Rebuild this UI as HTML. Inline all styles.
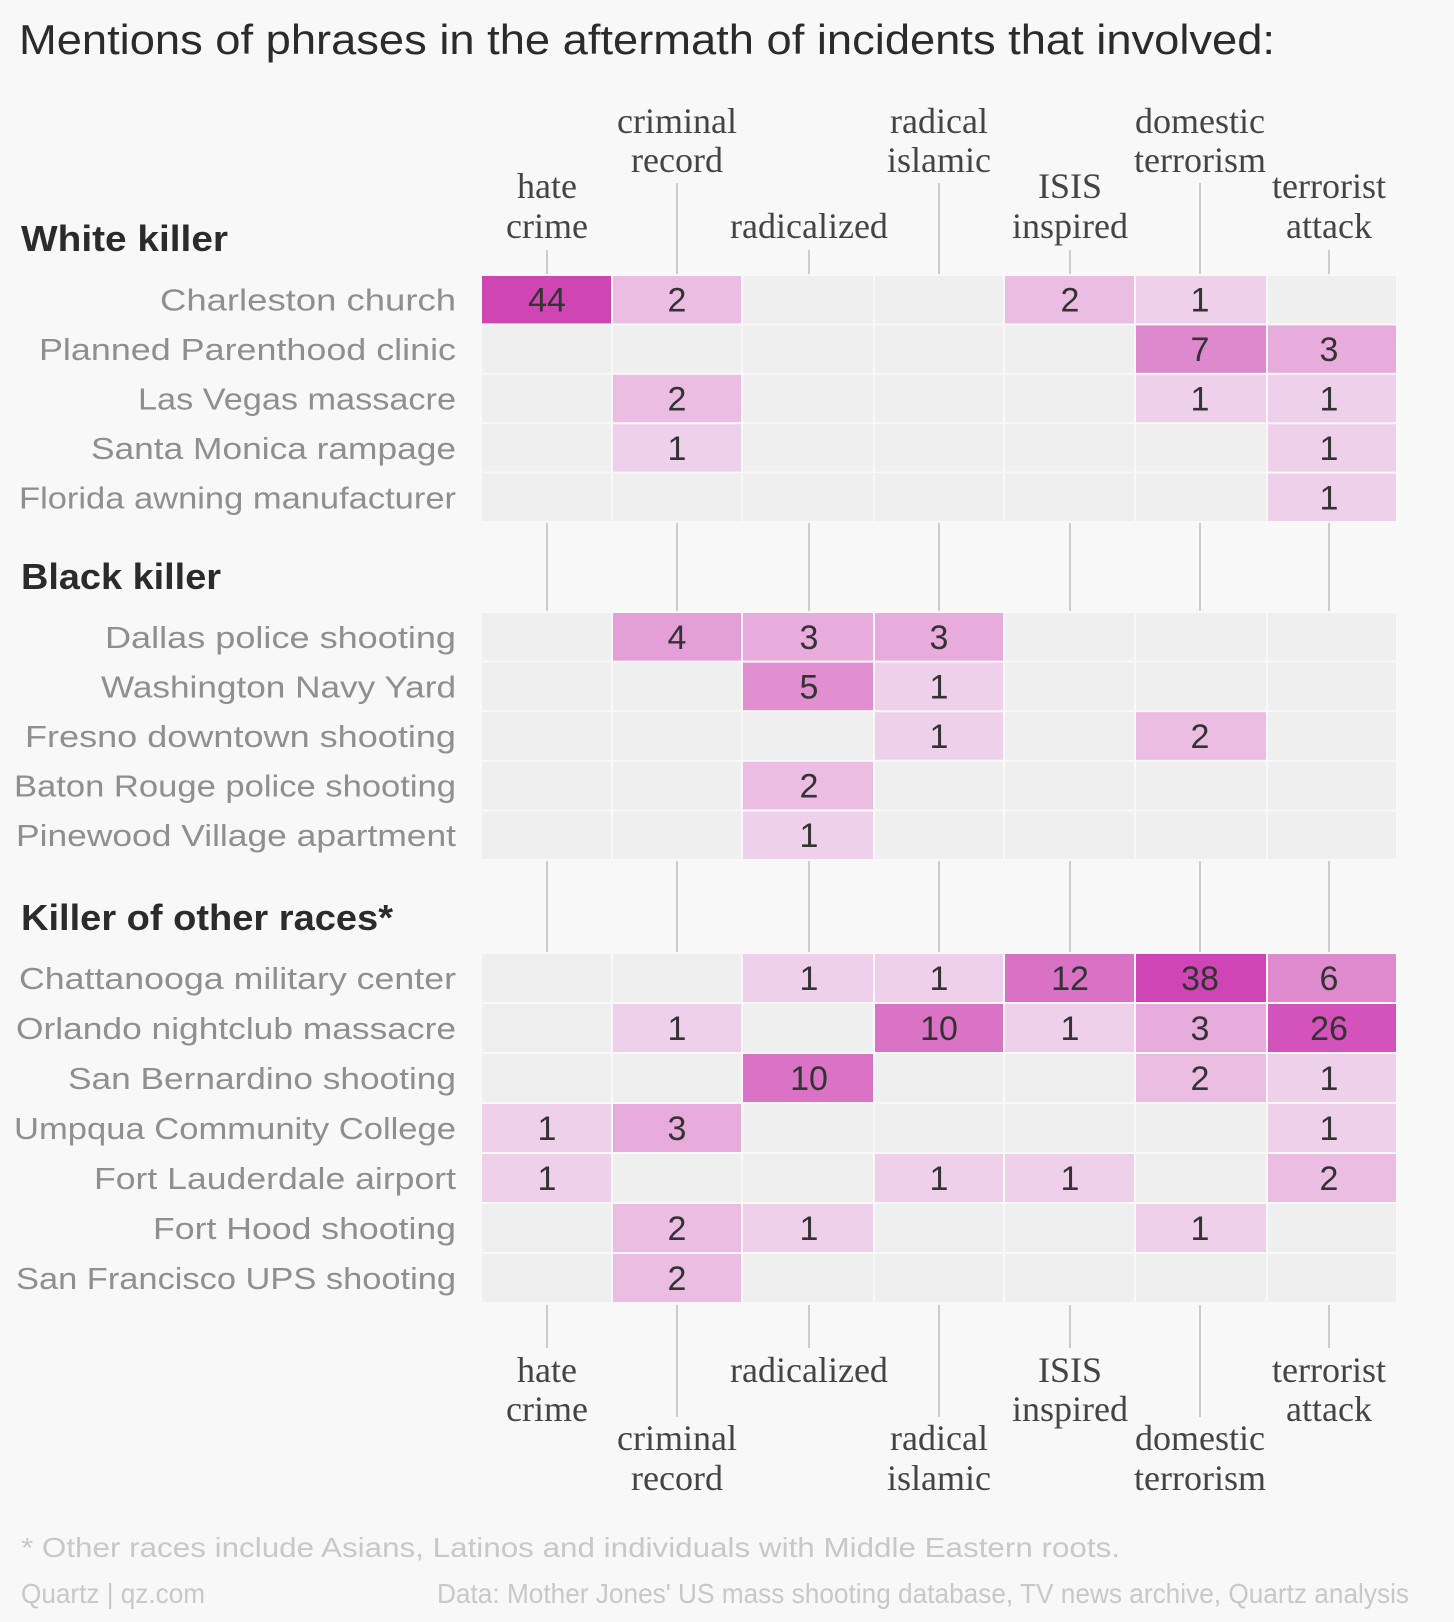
<!DOCTYPE html>
<html><head><meta charset="utf-8">
<style>
html,body{margin:0;padding:0;background:#f8f8f8;}
svg{display:block;}
.lbl{font-family:"Liberation Sans",sans-serif;font-size:31px;fill:#8f8f8f;}
.hd{font-family:"Liberation Sans",sans-serif;font-size:36px;font-weight:bold;fill:#2b2b2b;}
.col{font-family:"Liberation Serif",serif;font-size:36px;fill:#444;}
.num{font-family:"Liberation Sans",sans-serif;font-size:34px;fill:#333;}
.ft{font-family:"Liberation Sans",sans-serif;font-size:28px;fill:#c8c8c8;}
</style></head>
<body>
<svg id="s" width="1454" height="1622" viewBox="0 0 1454 1622" xmlns="http://www.w3.org/2000/svg">
<rect width="1454" height="1622" fill="#f8f8f8"/>
<text x="19" y="54" font-family="Liberation Sans, sans-serif" font-size="42" fill="#2b2b2b" textLength="1256" lengthAdjust="spacingAndGlyphs">Mentions of phrases in the aftermath of incidents that involved:</text>
<text class="hd" x="21" y="251" textLength="207" lengthAdjust="spacingAndGlyphs">White killer</text>
<text class="hd" x="21" y="589" textLength="200" lengthAdjust="spacingAndGlyphs">Black killer</text>
<text class="hd" x="21" y="930" textLength="372" lengthAdjust="spacingAndGlyphs">Killer of other races*</text>
<text class="ft" x="21" y="1557" textLength="1099" lengthAdjust="spacingAndGlyphs">* Other races include Asians, Latinos and individuals with Middle Eastern roots.</text>
<text class="ft" x="21" y="1603" font-size="26" textLength="184" lengthAdjust="spacingAndGlyphs">Quartz | qz.com</text>
<text class="ft" x="437" y="1603" font-size="26" textLength="972" lengthAdjust="spacingAndGlyphs">Data: Mother Jones' US mass shooting database, TV news archive, Quartz analysis</text>
<g id="g"></g>
</svg>
<script>
var NS="http://www.w3.org/2000/svg",g=document.getElementById('g');
function el(t,a,txt){var e=document.createElementNS(NS,t);for(var k in a)e.setAttribute(k,a[k]);if(txt!=null)e.textContent=txt;g.appendChild(e);return e;}
var xb=[481,612,742,874,1004,1135,1267,1397];
var tx=[547,677,809,939,1070,1200,1329];
var cols=[["hate","crime"],["criminal","record"],["radicalized"],["radical","islamic"],["ISIS","inspired"],["domestic","terrorism"],["terrorist","attack"]];
var rowA=[false,true,false,true,false,true,false];
var colors={1:"#eed0ea",2:"#ebbde2",3:"#e8acdc",4:"#e59fd8",5:"#e18fd1",6:"#df8ace",7:"#de88cd",10:"#da73c6",12:"#d972c5",26:"#d452bb",38:"#d045b6",44:"#cf45b4"};
var groups=[
 {top:275,h:49.4,rows:[
  ["Charleston church",296,{0:44,1:2,4:2,5:1}],
  ["Planned Parenthood clinic",417,{5:7,6:3}],
  ["Las Vegas massacre",318,{1:2,5:1,6:1}],
  ["Santa Monica rampage",365,{1:1,6:1}],
  ["Florida awning manufacturer",437,{6:1}]]},
 {top:612,h:49.6,rows:[
  ["Dallas police shooting",351,{1:4,2:3,3:3}],
  ["Washington Navy Yard",355,{2:5,3:1}],
  ["Fresno downtown shooting",431,{3:1,5:2}],
  ["Baton Rouge police shooting",442,{2:2}],
  ["Pinewood Village apartment",440,{2:1}]]},
 {top:953,h:50,rows:[
  ["Chattanooga military center",437,{2:1,3:1,4:12,5:38,6:6}],
  ["Orlando nightclub massacre",440,{1:1,3:10,4:1,5:3,6:26}],
  ["San Bernardino shooting",388,{2:10,5:2,6:1}],
  ["Umpqua Community College",442,{0:1,1:3,6:1}],
  ["Fort Lauderdale airport",362,{0:1,3:1,4:1,6:2}],
  ["Fort Hood shooting",303,{1:2,2:1,5:1}],
  ["San Francisco UPS shooting",440,{1:2}]]}];
groups.forEach(function(G){
 G.rows.forEach(function(r,i){
  var y=G.top+i*G.h,cy=y+G.h/2;
  el('text',{"class":"lbl",x:456,y:cy+11,"text-anchor":"end",textLength:r[1],lengthAdjust:"spacingAndGlyphs"},r[0]);
  for(var c=0;c<7;c++){
   var v=r[2][c];
   el('rect',{x:xb[c]+1,y:y+1,width:xb[c+1]-xb[c]-2,height:G.h-2,fill:v?colors[v]:"#efefef"});
   if(v)el('text',{"class":"num",x:tx[c],y:cy+12,"text-anchor":"middle"},v);
  }
 });
});
function line(x,y1,y2){el('line',{x1:x,x2:x,y1:y1,y2:y2,stroke:"#bdbdbd","stroke-width":1.5});}
for(var c=0;c<7;c++){
 var x=tx[c],A=rowA[c],w=cols[c];
 line(x,A?183:250,274);
 var b=A?[133,172]:[198,238];
 if(w.length==1)el('text',{"class":"col",x:x,y:238,"text-anchor":"middle"},w[0]);
 else{el('text',{"class":"col",x:x,y:b[0],"text-anchor":"middle"},w[0]);el('text',{"class":"col",x:x,y:b[1],"text-anchor":"middle"},w[1]);}
 line(x,523,611);line(x,861,952);
 line(x,1305,A?1417:1348);
 var bb=A?[1450,1490]:[1382,1421];
 if(w.length==1)el('text',{"class":"col",x:x,y:1382,"text-anchor":"middle"},w[0]);
 else{el('text',{"class":"col",x:x,y:bb[0],"text-anchor":"middle"},w[0]);el('text',{"class":"col",x:x,y:bb[1],"text-anchor":"middle"},w[1]);}
}
</script>
</body></html>
